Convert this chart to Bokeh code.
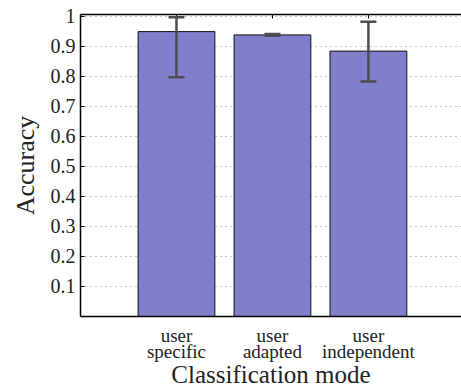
from bokeh.plotting import figure
from bokeh.models import Range1d, FixedTicker, LinearAxis, ColumnDataSource, Whisker, TeeHead
from bokeh.embed import file_html
from bokeh.resources import INLINE

categories = ["user\nspecific", "user\nadapted", "user\nindependent"]
positions = [1, 2, 3]
accuracy = [0.949, 0.938, 0.884]
err_lower = [0.797, 0.935, 0.783]
err_upper = [0.997, 0.941, 0.982]
yticks = [0.1, 0.2, 0.3, 0.4, 0.5, 0.6, 0.7, 0.8, 0.9, 1.0]
ytick_labels = ["0.1", "0.2", "0.3", "0.4", "0.5", "0.6", "0.7", "0.8", "0.9", "1"]
x_title = "Classification mode"
y_title = "Accuracy"

FONT = "Liberation Serif"
X_END = 3.97

p = figure(width=461, height=391, output_backend="svg", toolbar_location=None,
           x_range=Range1d(0, X_END), y_range=Range1d(0, 1.006),
           min_border_left=80, min_border_right=0, min_border_top=14, min_border_bottom=73)
p.outline_line_color = None
p.background_fill_color = "white"

src = ColumnDataSource(dict(x=positions, top=accuracy, lower=err_lower, upper=err_upper))
p.vbar(x="x", top="top", width=0.8, source=src, fill_color="#7f7fcc",
       line_color="#111111", line_width=1)

w = Whisker(base="x", lower="lower", upper="upper", source=src, level="overlay",
            line_color="#4d4d4d", line_width=2.5,
            upper_head=TeeHead(size=16, line_color="#4d4d4d", line_width=2.5),
            lower_head=TeeHead(size=16, line_color="#4d4d4d", line_width=2.5))
p.add_layout(w)

# grid
p.xgrid.visible = False
p.ygrid.ticker = FixedTicker(ticks=yticks)
p.ygrid.grid_line_color = "#8a8a8a"
p.ygrid.grid_line_dash = "1 4"
p.ygrid.grid_line_width = 1

# y axis
ya = p.yaxis[0]
ya.ticker = FixedTicker(ticks=yticks)
ya.major_label_overrides = {t: l for t, l in zip(yticks, ytick_labels)}
ya.major_tick_in = 4
ya.major_tick_out = 0
ya.minor_tick_line_color = None
ya.axis_line_width = 1.5
ya.axis_line_color = "black"
ya.major_label_text_font = FONT
ya.major_label_text_font_size = "20px"
ya.major_label_text_color = "#222222"
ya.major_label_standoff = 5
ya.axis_label = y_title
ya.axis_label_text_font = FONT
ya.axis_label_text_font_size = "26px"
ya.axis_label_text_font_style = "normal"
ya.axis_label_text_color = "#222222"
ya.axis_label_standoff = 8

# x axis
xa = p.xaxis[0]
xa.ticker = FixedTicker(ticks=positions)
xa.major_label_overrides = {pos: c for pos, c in zip(positions, categories)}
xa.major_tick_in = 0
xa.major_tick_out = 0
xa.minor_tick_line_color = None
xa.axis_line_width = 1.5
xa.axis_line_color = "black"
xa.major_label_text_font = FONT
xa.major_label_text_font_size = "19px"
xa.major_label_text_color = "#222222"
xa.major_label_text_line_height = 0.8
xa.major_label_standoff = 8
xa.axis_label = x_title
xa.axis_label_text_font = FONT
xa.axis_label_text_font_size = "25px"
xa.axis_label_text_font_style = "normal"
xa.axis_label_text_color = "#222222"
xa.axis_label_text_line_height = 0.9
xa.axis_label_standoff = -4

# top frame line with inward ticks
top = LinearAxis(ticker=FixedTicker(ticks=positions),
                 major_label_overrides={pos: "" for pos in positions},
                 major_tick_in=4, major_tick_out=0, minor_tick_line_color=None,
                 axis_line_width=1.5, axis_line_color="black", major_label_standoff=0)
p.add_layout(top, "above")

open("out.html", "w").write(file_html(p, INLINE))
